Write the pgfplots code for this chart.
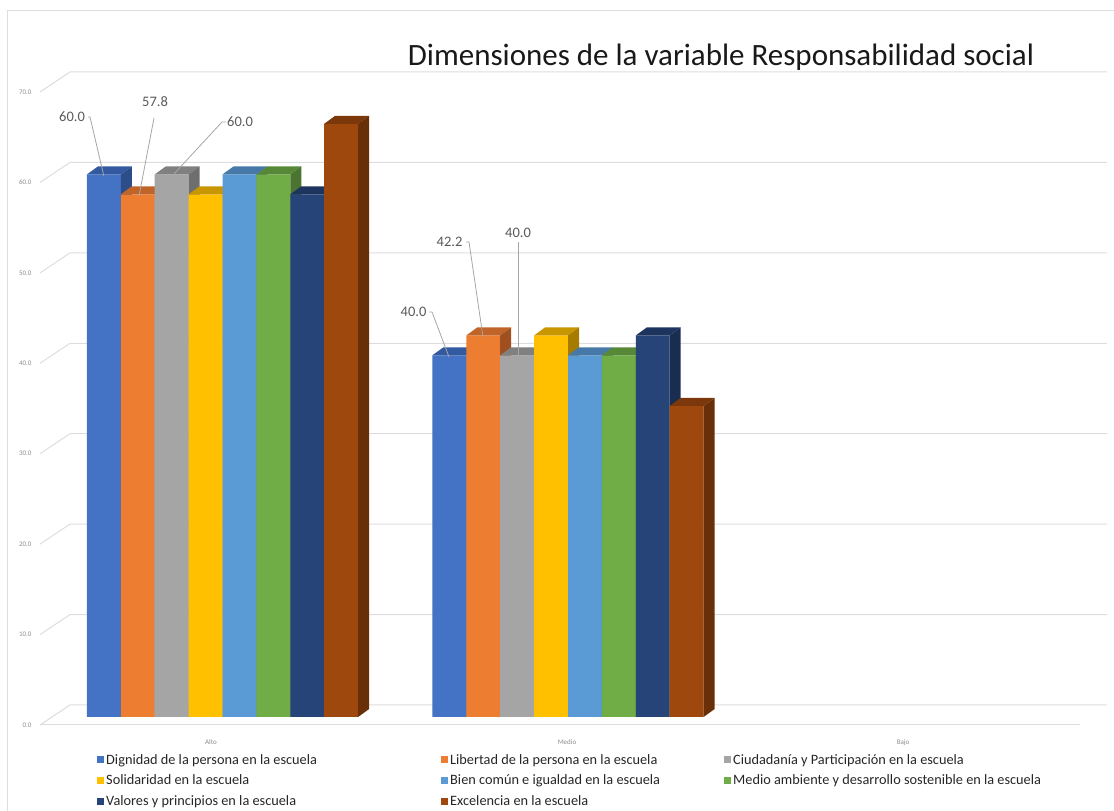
\documentclass[border=0pt]{standalone}
\usepackage{fontspec}
\setmainfont{Carlito}
\usepackage{pgfplots}
\usepackage{pgfplotstable}
\pgfplotsset{compat=1.18}

\definecolor{c1}{HTML}{4472C4}\definecolor{c1top}{HTML}{335AA0}\definecolor{c1side}{HTML}{2C4D88}
\definecolor{c2}{HTML}{ED7D31}\definecolor{c2top}{HTML}{C0642A}\definecolor{c2side}{HTML}{A0501E}
\definecolor{c3}{HTML}{A5A5A5}\definecolor{c3top}{HTML}{808080}\definecolor{c3side}{HTML}{6E6E6E}
\definecolor{c4}{HTML}{FFC000}\definecolor{c4top}{HTML}{C89600}\definecolor{c4side}{HTML}{A67C00}
\definecolor{c5}{HTML}{5B9BD5}\definecolor{c5top}{HTML}{4679A8}\definecolor{c5side}{HTML}{3C6790}
\definecolor{c6}{HTML}{70AD47}\definecolor{c6top}{HTML}{568838}\definecolor{c6side}{HTML}{4A742F}
\definecolor{c7}{HTML}{264478}\definecolor{c7top}{HTML}{1D355E}\definecolor{c7side}{HTML}{192D50}
\definecolor{c8}{HTML}{9E480E}\definecolor{c8top}{HTML}{7C380A}\definecolor{c8side}{HTML}{682F08}
\definecolor{gridc}{HTML}{DDDDDD}
\definecolor{tickc}{HTML}{8C8C8C}
\definecolor{lblc}{HTML}{595959}
\definecolor{leadc}{HTML}{A6A6A6}

\pgfplotstableread{
x dig lib ciu sol bien med val exc
0 60.0 57.8 60.0 57.8 60.0 60.0 57.8 65.6
1 40.0 42.2 40.0 42.2 40.0 40.0 42.2 34.4
2 0 0 0 0 0 0 0 0
}\datatable

% top face of a 3D bar (origin = front top centre of the bar)
\pgfdeclareplotmark{cubetop}{%
  \pgfpathmoveto{\pgfpoint{-16.95pt}{0pt}}%
  \pgfpathlineto{\pgfpoint{16.95pt}{0pt}}%
  \pgfpathlineto{\pgfpoint{27.95pt}{8pt}}%
  \pgfpathlineto{\pgfpoint{-5.95pt}{8pt}}%
  \pgfpathclose\pgfusepathqfill}
% side face of a 3D bar, height taken from the data value
\pgfdeclareplotmark{cubeside}{%
  \pgfmathsetmacro\cubeH{\rawy*9.0429}%
  \pgfpathmoveto{\pgfpoint{16.95pt}{0pt}}%
  \pgfpathlineto{\pgfpoint{27.95pt}{8pt}}%
  \pgfpathlineto{\pgfpoint{27.95pt}{8pt-\cubeH pt}}%
  \pgfpathlineto{\pgfpoint{16.95pt}{-\cubeH pt}}%
  \pgfpathclose\pgfusepathqfill}

\newcommand{\cubeseries}[4]{%
  \addplot[ybar, bar width=33.9pt, bar shift=#2, fill=#3, draw=none,
    skip coords between index={2}{3},
    legend image code/.code={\fill[#3] (0pt,-3.5pt) rectangle (7pt,3.5pt);}] table[x=x,y=#1]{\datatable};
  \addlegendentry{#4}
  \addplot[only marks, mark=cubetop, xshift=#2, mark options={fill=#3top, draw=none}, forget plot,
    skip coords between index={2}{3}] table[x=x,y=#1]{\datatable};
  \addplot[only marks, mark=cubeside, xshift=#2, mark options={fill=#3side, draw=none}, forget plot,
    skip coords between index={2}{3}, visualization depends on={\thisrow{#1}\as\rawy}] table[x=x,y=#1]{\datatable};
}

\begin{document}
\begin{tikzpicture}
\useasboundingbox (0pt,0pt) rectangle (1114pt,811pt);
\begin{axis}[
  at={(52pt,94pt)}, anchor=south west,
  scale only axis, width=1040pt, height=633pt,
  xmin=-0.4935, xmax=2.5166, ymin=0, ymax=70,
  clip=false, clip marker paths=true,
  axis line style={draw=none}, major tick length=0pt,
  ytick={0,10,...,70},
  yticklabel style={font=\fontsize{7}{8}\selectfont, text=tickc, xshift=-17pt, yshift=-8pt,
     /pgf/number format/.cd, fixed, fixed zerofill, precision=1},
  /pgf/number format/assume math mode=true,
  xtick={-0.0333,0.997,1.9696},
  xticklabels={Alto,Medio,Bajo},
  xticklabel style={font=\fontsize{7}{8}\selectfont, text=tickc, yshift=-19pt},
  legend columns=3,
  legend cell align=left,
  legend style={draw=none, fill=none, at={(axis description cs:0,0)}, anchor=north west,
     xshift=45pt, yshift=-35pt, inner sep=0pt, column sep=0pt, row sep=5.3pt,
     nodes={inner sep=2pt},
     font=\fontsize{14.3}{16}\selectfont, text=black!85},
]
\pgfplotsinvokeforeach{0,10,...,70}{
  \draw[gridc, line width=1pt] ([xshift=-12pt,yshift=-8pt]axis cs:-0.4935,#1) -- ([xshift=18pt,yshift=12pt]axis cs:-0.4935,#1) -- ([xshift=15pt,yshift=12pt]axis cs:2.5166,#1);
}
\draw[gridc, line width=1pt] ([xshift=-12pt,yshift=-8pt]axis cs:-0.4935,0) -- ([xshift=-12pt,yshift=-8pt]axis cs:2.5166,0);

\cubeseries{dig}{-118.65pt}{c1}{\makebox[333pt][l]{Dignidad de la persona en la escuela}}
\cubeseries{lib}{-84.75pt}{c2}{\makebox[272pt][l]{Libertad de la persona en la escuela}}
\cubeseries{ciu}{-50.85pt}{c3}{Ciudadanía y Participación en la escuela}
\cubeseries{sol}{-16.95pt}{c4}{\makebox[333pt][l]{Solidaridad en la escuela}}
\cubeseries{bien}{16.95pt}{c5}{\makebox[272pt][l]{Bien común e igualdad en la escuela}}
\cubeseries{med}{50.85pt}{c6}{Medio ambiente y desarrollo sostenible en la escuela}
\cubeseries{val}{84.75pt}{c7}{\makebox[333pt][l]{Valores y principios en la escuela}}
\cubeseries{exc}{118.65pt}{c8}{\makebox[272pt][l]{Excelencia en la escuela}}

% data labels with leader lines
\tikzset{lbl/.style={font=\fontsize{14.5}{16}\selectfont, text=lblc, inner sep=0pt}, lead/.style={leadc, line width=0.8pt}}
% Alto
\draw[lead] ([xshift=-118.65pt-15.85pt,yshift=57.4pt]axis cs:0,60) -- ([xshift=-118.65pt-13.85pt,yshift=57.4pt]axis cs:0,60) -- ([xshift=-118.65pt,yshift=-1.6pt]axis cs:0,60);
\node[lbl] at ([xshift=-118.65pt-31.85pt,yshift=57.4pt]axis cs:0,60) {60.0};
\draw[lead] ([xshift=-84.75pt+16.25pt,yshift=76.3pt]axis cs:0,57.8) -- ([xshift=-84.75pt+1.25pt,yshift=-1.7pt]axis cs:0,57.8);
\node[lbl] at ([xshift=-84.75pt+17.25pt,yshift=92.3pt]axis cs:0,57.8) {57.8};
\draw[lead] ([xshift=-50.85pt+54.35pt,yshift=52.4pt]axis cs:0,60) -- ([xshift=-50.85pt+50.35pt,yshift=52.4pt]axis cs:0,60) -- ([xshift=-50.85pt+0.35pt,yshift=-1.6pt]axis cs:0,60);
\node[lbl] at ([xshift=-50.85pt+68.35pt,yshift=52.4pt]axis cs:0,60) {60.0};
% Medio
\draw[lead] ([xshift=-118.65pt-20.35pt,yshift=43.3pt]axis cs:1,40) -- ([xshift=-118.65pt-17.35pt,yshift=43.3pt]axis cs:1,40) -- ([xshift=-118.65pt-0.35pt,yshift=-1.7pt]axis cs:1,40);
\node[lbl] at ([xshift=-118.65pt-35.85pt,yshift=43.3pt]axis cs:1,40) {40.0};
\draw[lead] ([xshift=-84.75pt-17.25pt,yshift=93.4pt]axis cs:1,42.2) -- ([xshift=-84.75pt-14.25pt,yshift=93.4pt]axis cs:1,42.2) -- ([xshift=-84.75pt-0.25pt,yshift=-1.6pt]axis cs:1,42.2);
\node[lbl] at ([xshift=-84.75pt-33.75pt,yshift=93.4pt]axis cs:1,42.2) {42.2};
\draw[lead] ([xshift=-50.85pt+0.85pt,yshift=113pt]axis cs:1,40) -- ([xshift=-50.85pt+0.85pt,yshift=-1.7pt]axis cs:1,40);
\node[lbl] at ([xshift=-50.85pt+0.85pt,yshift=122.3pt]axis cs:1,40) {40.0};
\end{axis}
% chart frame and title
\draw[gridc, line width=1pt] (7pt,0pt) -- (7pt,800pt) -- (1114pt,800pt);
\node[font=\fontsize{31}{36}\selectfont, text=black!90, inner sep=0pt] at (721pt,754pt) {Dimensiones de la variable Responsabilidad social};
\end{tikzpicture}
\end{document}
